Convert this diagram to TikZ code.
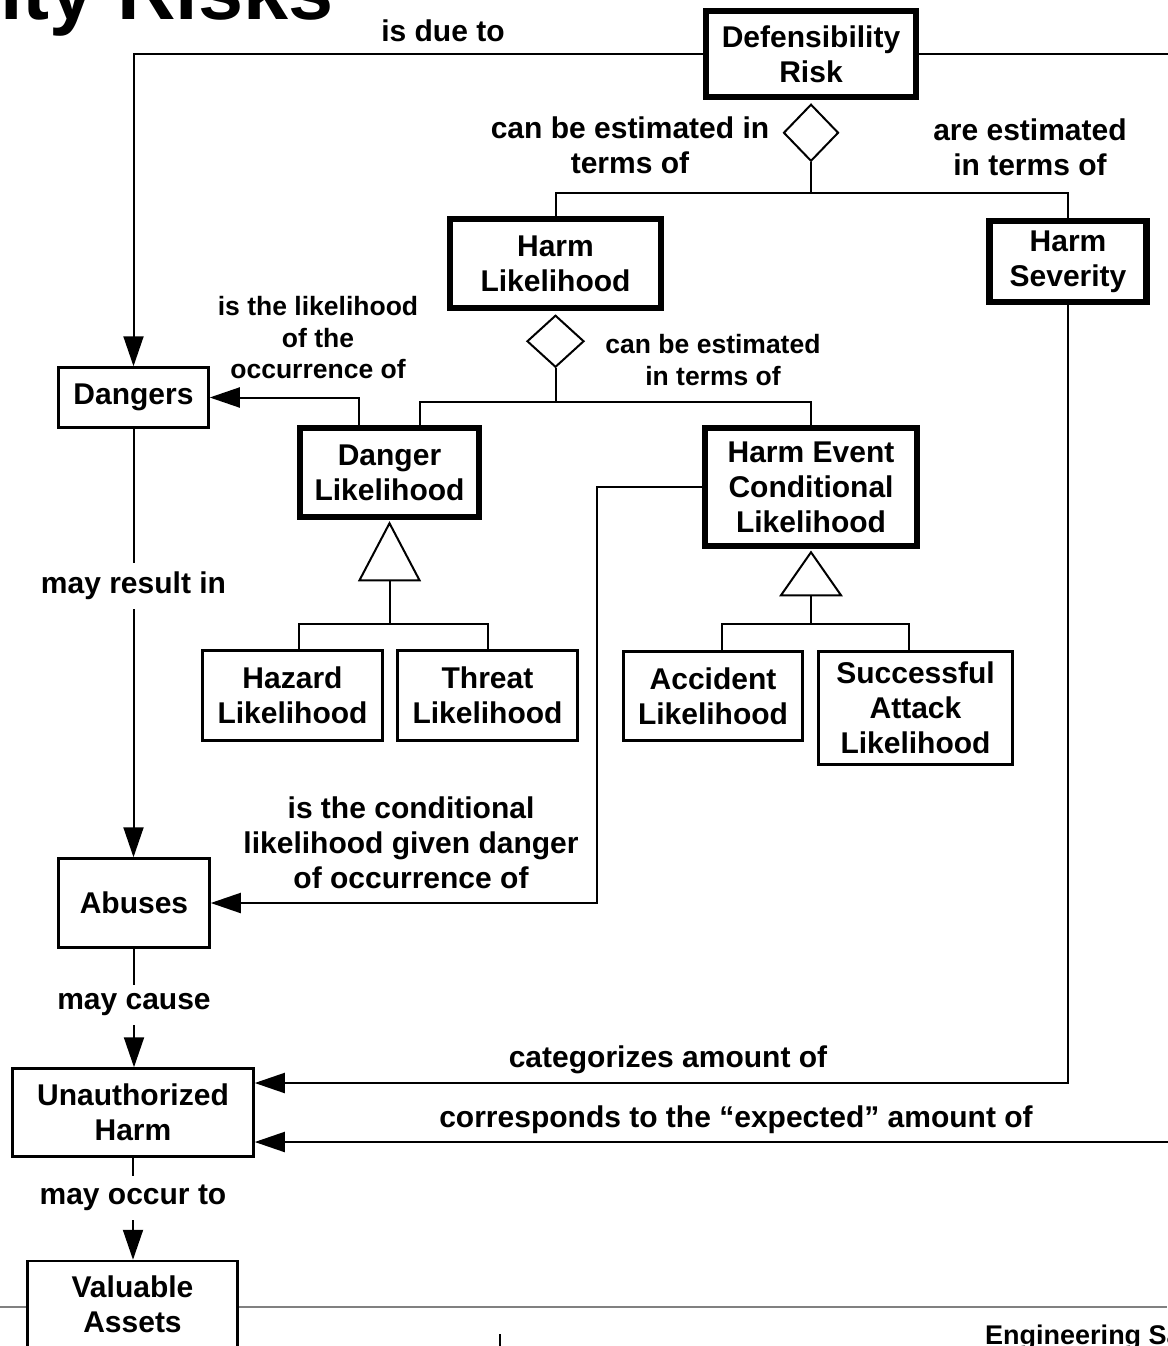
\documentclass[tikz,border=0pt]{standalone}
\usepackage{fontspec}
\setmainfont{Liberation Sans}
\usetikzlibrary{positioning}
\usetikzlibrary{arrows.meta}
\usetikzlibrary{shapes.geometric}
\newcommand{\boxfont}{\fontsize{30}{35}\selectfont\bfseries}
\newcommand{\notefont}{\fontsize{26.5}{31.5}\selectfont\bfseries}
\tikzset{conceptbox/.style={draw, line width=2.5pt, fill=white, inner sep=0pt, align=center, font=\boxfont}}
\tikzset{keybox/.style={draw, line width=6.5pt, fill=white, inner sep=0pt, align=center, font=\boxfont}}
\tikzset{rel/.style={line width=2pt}}
\tikzset{relarrow/.style={line width=2pt, -{Triangle[length=30pt,width=20pt]}}}
\tikzset{lbl/.style={align=center, inner sep=9pt, font=\boxfont}}
\tikzset{smalllbl/.style={align=center, inner sep=2pt, font=\notefont}}
\tikzset{aggr/.style={diamond, draw, line width=2pt, fill=white, inner sep=0pt, anchor=north}}

\begin{document}
\begin{tikzpicture}[x=1pt, y=-1pt]
\useasboundingbox (0,0) rectangle (1167,1346);
\draw[gray, line width=2pt] (0,1307) -- (1167,1307);
\draw[line width=1.5pt] (500,1334) -- (500,1346);
\node[anchor=base west, inner sep=0pt, font=\fontsize{81}{81}\selectfont\bfseries] (title) at (0,20) {ity Risks};
\node[anchor=base west, inner sep=0pt, font=\fontsize{27}{27}\selectfont\bfseries] (footer) at (985,1344) {Engineering Sa};
% concepts
\node[keybox, minimum width=210pt, minimum height=86pt] (risk) at (811,54) {Defensibility\\Risk};
\node[keybox, minimum width=211pt, minimum height=89pt] (hlike) at (555.5,263.5) {Harm\\Likelihood};
\node[keybox, minimum width=157pt, minimum height=81pt] (hsev) at (1068,261.5) {Harm\\Severity};
\node[keybox, minimum width=179pt, minimum height=89pt] (dlike) at (389.5,472.5) {Danger\\Likelihood};
\node[keybox, minimum width=212pt, minimum height=118pt] (hevent) at (811,487) {Harm Event\\Conditional\\Likelihood};
\node[conceptbox, minimum width=180pt, minimum height=90pt] (hazard) at (292.5,695.5) {Hazard\\Likelihood};
\node[conceptbox, minimum width=180pt, minimum height=90pt] (threat) at (487.5,695.5) {Threat\\Likelihood};
\node[conceptbox, minimum width=179pt, minimum height=89pt] (accident) at (713,696) {Accident\\Likelihood};
\node[conceptbox, minimum width=194pt, minimum height=113pt] (attack) at (915.5,708) {Successful\\Attack\\Likelihood};
\node[conceptbox, minimum width=150pt, minimum height=60pt] (dang) at (133.5,397.5) {Dangers};
\node[conceptbox, minimum width=151pt, minimum height=89pt] (abuse) at (134,903) {Abuses};
\node[conceptbox, minimum width=241pt, minimum height=88pt] (harm) at (133,1112.5) {Unauthorized\\Harm};
\node[conceptbox, minimum width=210pt, minimum height=87pt] (asset) at (132.5,1304.5) {Valuable\\Assets};
% aggregation of risk
\node[aggr, minimum width=55pt, minimum height=57pt] (riskdia) at ([yshift=-3pt]risk.south) {};
\coordinate (riskfork) at ([yshift=-31pt]riskdia.south);
\draw[rel] (riskdia.south) -- (riskfork);
\draw[rel] (hlike.north) |- (riskfork) -| (hsev.north);
% aggregation of harm likelihood
\node[aggr, minimum width=57pt, minimum height=52pt] (hldia) at ([yshift=-3pt]hlike.south) {};
\coordinate (hlfork) at ([yshift=-34pt]hldia.south);
\draw[rel] (hldia.south) -- (hlfork);
\draw[rel] ([xshift=30.5pt]dlike.north) |- (hlfork) -| (hevent.north);
% generalisations
\draw[rel, fill=white] ([yshift=-3pt]dlike.south) -- ++(30,57) -- ++(-60,0) -- cycle;
\coordinate (dltri) at ([yshift=-60pt]dlike.south);
\coordinate (dlfork) at ([yshift=-44pt]dltri);
\draw[rel] (dltri) -- (dlfork);
\draw[rel] ([xshift=6.5pt]hazard.north) |- (dlfork) -| (threat.north);
\draw[rel, fill=white] ([yshift=-3pt]hevent.south) -- ++(30,43) -- ++(-60,0) -- cycle;
\coordinate (hetri) at ([yshift=-46pt]hevent.south);
\coordinate (hefork) at ([yshift=-29pt]hetri);
\draw[rel] (hetri) -- (hefork);
\draw[rel] ([xshift=9pt]accident.north) |- (hefork) -| ([xshift=-6.5pt]attack.north);
% relations
\coordinate (offright) at (1200,54);
\draw[relarrow] (risk.west) -| (dang.north);
\draw[relarrow] (risk.east) -- (offright) |- ([yshift=-29.5pt]harm.east);
\draw[relarrow] (hsev.south) |- ([yshift=29.5pt]harm.east);
\draw[relarrow] ([xshift=-30.5pt]dlike.north) |- (dang.east);
\draw[relarrow] (hevent.west) -- ++(-105,0) |- (abuse.east);
\draw[relarrow] (dang.south) -- (dang.south |- abuse.north);
\draw[relarrow] (abuse.south) -- (abuse.south |- harm.north);
\draw[relarrow] (harm.south) -- (harm.south |- asset.north);
% labels
\node[lbl] (duelbl) at (443,31) {is due to};
\node[lbl] (estlbl) at (630,145) {can be estimated in\\terms of};
\node[lbl] (sevlbl) at (1030,147) {are estimated\\in terms of};
\node[smalllbl] (occlbl) at (318,338) {is the likelihood\\of the\\occurrence of};
\node[smalllbl] (hllbl) at (713,360) {can be estimated\\in terms of};
\node[lbl, fill=white] (reslbl) at (133.5,586) {may result in};
\node[lbl] (condlbl) at (411,843) {is the conditional\\likelihood given danger\\of occurrence of};
\node[lbl, fill=white] (causelbl) at (134,1005) {may cause};
\node[lbl] (catlbl) at (668,1060) {categorizes amount of};
\node[lbl] (explbl) at (736,1120) {corresponds to the “expected” amount of};
\node[lbl, fill=white] (occurlbl) at (133,1198) {may occur to};
\end{tikzpicture}
\end{document}
